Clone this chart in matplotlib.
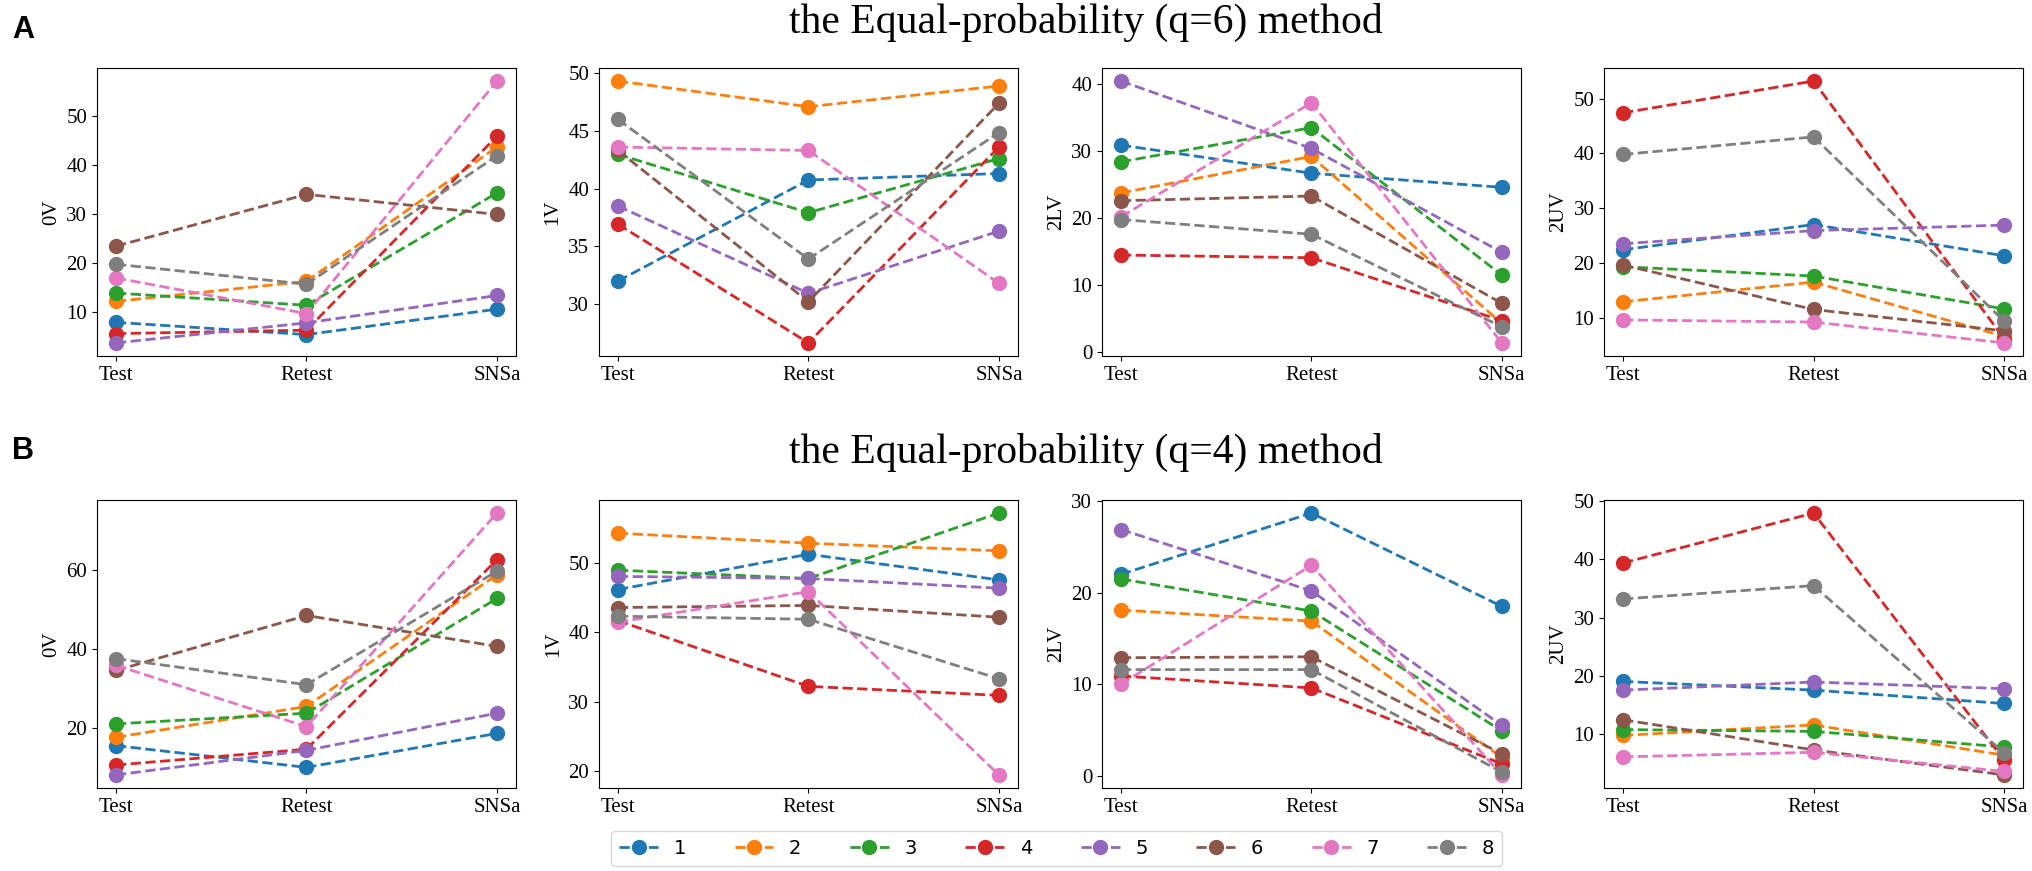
import matplotlib
matplotlib.use('Agg')
from matplotlib import pyplot as plt

# x categories and series names
phases = ['Test', 'Retest', 'SNSa']
groups = ['1', '2', '3', '4', '5', '6', '7', '8']
measures = ['0V', '1V', '2LV', '2UV']

# equal-probability q=6, one row per group: [Test, Retest, SNSa]
q6_0V = [[7.8, 5.3, 10.5], [12.1, 16.2, 43.7], [13.8, 11.3, 34.3], [5.5, 6.2, 45.9],
         [3.6, 7.7, 13.3], [23.4, 34.0, 29.9], [16.9, 9.6, 57.2], [19.7, 15.6, 41.9]]
q6_1V = [[31.97, 40.74, 41.3], [49.33, 47.1, 48.9], [42.97, 37.9, 42.6], [36.9, 26.6, 43.6],
         [38.48, 30.9, 36.3], [43.3, 30.17, 47.4], [43.6, 43.3, 31.77], [46.0, 33.88, 44.85]]
q6_2LV = [[30.9, 26.7, 24.6], [23.76, 29.2, 4.3], [28.4, 33.5, 11.5], [14.5, 14.1, 4.7],
          [40.45, 30.4, 14.9], [22.6, 23.3, 7.3], [20.2, 37.2, 1.4], [19.8, 17.6, 3.8]]
q6_2UV = [[22.4, 27.0, 21.3], [12.9, 16.5, 6.6], [19.3, 17.6, 11.6], [47.4, 53.2, 6.2],
          [23.5, 25.9, 26.9], [19.6, 11.5, 7.6], [9.6, 9.2, 5.4], [39.8, 43.0, 9.4]]

# equal-probability q=4
q4_0V = [[15.5, 10.0, 18.6], [17.6, 25.4, 58.7], [21.0, 23.7, 52.7], [10.6, 14.6, 62.5],
         [8.1, 14.3, 23.7], [34.5, 48.4, 40.6], [35.8, 20.3, 74.3], [37.5, 30.9, 59.6]]
q4_1V = [[46.2, 51.3, 47.6], [54.35, 52.9, 51.8], [49.0, 47.8, 57.26], [41.7, 32.2, 30.9],
         [48.1, 47.8, 46.4], [43.6, 43.9, 42.2], [41.5, 45.9, 19.4], [42.35, 41.9, 33.3]]
q4_2LV = [[22.0, 28.7, 18.5], [18.1, 16.9, 2.0], [21.5, 18.0, 4.9], [10.9, 9.6, 1.3],
          [26.9, 20.2, 5.5], [12.9, 13.0, 2.4], [10.0, 23.0, 0.1], [11.6, 11.6, 0.4]]
q4_2UV = [[19.0, 17.5, 15.2], [9.7, 11.5, 6.3], [10.7, 10.4, 7.7], [39.4, 48.0, 5.5],
          [17.5, 18.9, 17.75], [12.4, 7.2, 2.9], [6.0, 6.8, 3.5], [33.2, 35.5, 6.7]]

rows = [
    ('A', 'the Equal-probability (q=6) method', [q6_0V, q6_1V, q6_2LV, q6_2UV]),
    ('B', 'the Equal-probability (q=4) method', [q4_0V, q4_1V, q4_2LV, q4_2UV]),
]

plt.rcParams['font.family'] = ['Liberation Serif', 'DejaVu Serif']
fig = plt.figure(figsize=(20.33, 8.71), dpi=100)

lefts = [0.0477, 0.2946, 0.5420, 0.7890]
bottoms = [0.5913, 0.0953]
title_y = [0.962, 0.468]
letter_y = [0.956, 0.473]
w, h = 0.2061, 0.3307

for r, (letter, title, tables) in enumerate(rows):
    fig.text(0.006, letter_y[r], letter, fontsize=22, fontweight='bold',
             family='Liberation Sans', va='baseline')
    fig.text(0.534, title_y[r], title, fontsize=30, ha='center', va='baseline')
    for c, table in enumerate(tables):
        ax = fig.add_axes([lefts[c], bottoms[r], w, h])
        for i, vals in enumerate(table):
            ax.plot(phases, vals, '--o', color='C%d' % i, lw=2, markersize=10,
                    label=groups[i])
        ax.set_ylabel(measures[c], fontsize=15)
        ax.tick_params(labelsize=15)

handles, labels = ax.get_legend_handles_labels()
fig.legend(handles, labels, loc='center', bbox_to_anchor=(0.5197, 0.0258), ncol=8,
           prop={'family': 'DejaVu Sans', 'size': 14}, columnspacing=2.5)

fig.savefig('out.png', dpi=100)
